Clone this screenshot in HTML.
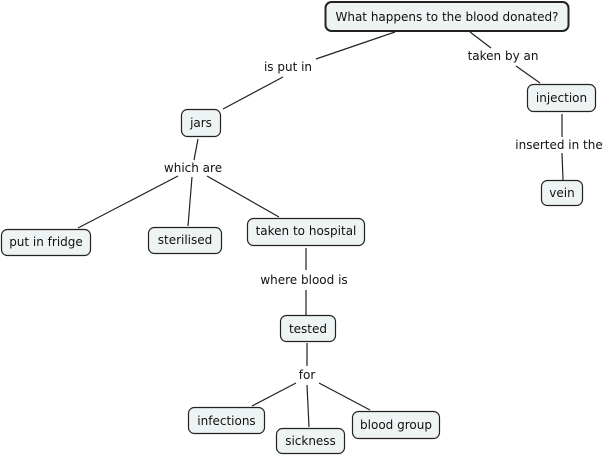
<!DOCTYPE html>
<html><head><meta charset="utf-8"><style>
html,body{margin:0;padding:0;background:#fff;}
svg{display:block;}
text{font-family:"DejaVu Sans","Liberation Sans",sans-serif;font-size:12px;fill:#111;}
rect{fill:#eef3f3;stroke:#222;stroke-width:1.2;}
line{stroke:#222;stroke-width:1.2;}
</style></head><body>
<svg width="610" height="455" viewBox="0 0 610 455" xmlns="http://www.w3.org/2000/svg">
<g>
<line x1="395" y1="32" x2="316" y2="59"/>
<line x1="283" y1="77" x2="223" y2="109"/>
<line x1="470" y1="32" x2="491" y2="48"/>
<line x1="516" y1="66" x2="540" y2="83"/>
<line x1="562" y1="114" x2="562" y2="137"/>
<line x1="562" y1="153" x2="563" y2="180"/>
<line x1="198" y1="139" x2="194" y2="160"/>
<line x1="178" y1="176" x2="78" y2="228"/>
<line x1="192" y1="177" x2="188" y2="226"/>
<line x1="207" y1="176" x2="279" y2="217"/>
<line x1="306" y1="248" x2="306" y2="270"/>
<line x1="306" y1="290" x2="306" y2="315"/>
<line x1="307" y1="343" x2="307" y2="366"/>
<line x1="296" y1="383" x2="252" y2="406"/>
<line x1="307" y1="385" x2="309" y2="427"/>
<line x1="319" y1="383" x2="370" y2="410"/>
</g>
<rect x="325.5" y="2" width="243" height="29" rx="6" style="stroke-width:2"/>
<text x="447" y="21" text-anchor="middle">What happens to the blood donated?</text>
<rect x="527.5" y="84.5" width="68" height="27" rx="6"/>
<text x="561.5" y="102" text-anchor="middle">injection</text>
<rect x="541.5" y="180.5" width="41" height="25" rx="6"/>
<text x="562" y="197" text-anchor="middle">vein</text>
<rect x="181.5" y="109.5" width="39" height="27" rx="6"/>
<text x="201" y="127" text-anchor="middle">jars</text>
<rect x="1.5" y="229.5" width="89" height="26" rx="6"/>
<text x="46" y="246" text-anchor="middle">put in fridge</text>
<rect x="148.5" y="227.5" width="73" height="26" rx="6"/>
<text x="185" y="244" text-anchor="middle">sterilised</text>
<rect x="247.5" y="218.5" width="117" height="27" rx="6"/>
<text x="306" y="235" text-anchor="middle">taken to hospital</text>
<rect x="280.5" y="315.5" width="55" height="26" rx="6"/>
<text x="308" y="333" text-anchor="middle">tested</text>
<rect x="188.5" y="407.5" width="76" height="26" rx="6"/>
<text x="226.5" y="425" text-anchor="middle">infections</text>
<rect x="276.5" y="428.5" width="68" height="25" rx="6"/>
<text x="310.5" y="445" text-anchor="middle">sickness</text>
<rect x="352.5" y="411.5" width="87" height="27" rx="6"/>
<text x="396" y="429" text-anchor="middle">blood group</text>
<text x="288" y="71" text-anchor="middle">is put in</text>
<text x="503" y="60" text-anchor="middle">taken by an</text>
<text x="559" y="149" text-anchor="middle">inserted in the</text>
<text x="193" y="172" text-anchor="middle">which are</text>
<text x="304" y="284" text-anchor="middle">where blood is</text>
<text x="307" y="379" text-anchor="middle">for</text>
</svg>
</body></html>
